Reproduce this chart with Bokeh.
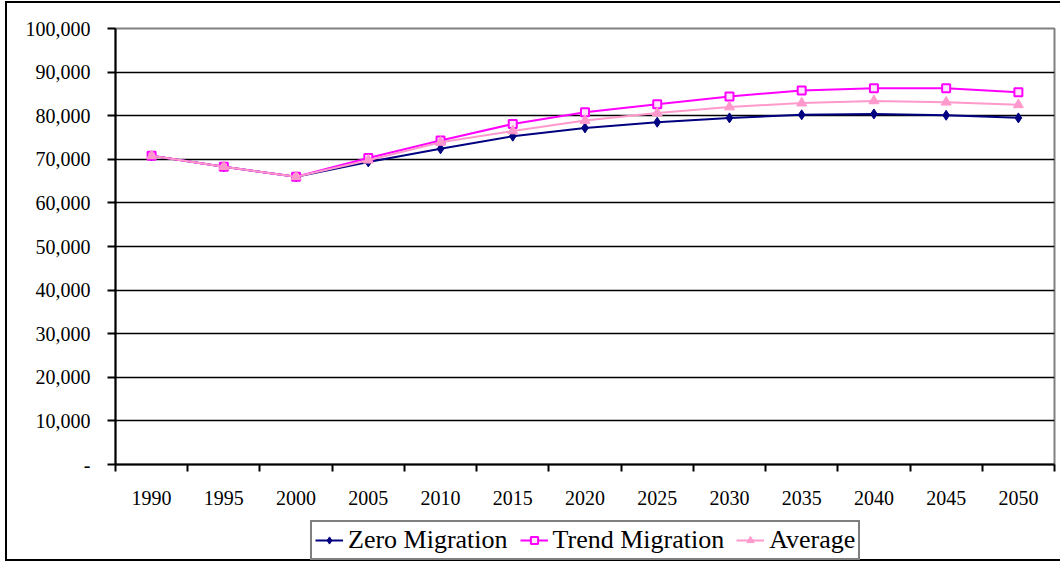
from bokeh.plotting import figure
from bokeh.layouts import column
from bokeh.models import FixedTicker, NumeralTickFormatter, Legend, LegendItem, Range1d
from bokeh.embed import file_html
from bokeh.resources import INLINE

years = [1990, 1995, 2000, 2005, 2010, 2015, 2020, 2025, 2030, 2035, 2040, 2045, 2050]
zero_migration = [70800, 68300, 66000, 69400, 72400, 75300, 77200, 78500, 79500, 80200, 80400, 80100, 79500]
trend_migration = [70800, 68300, 66000, 70300, 74300, 78100, 80800, 82600, 84400, 85800, 86300, 86300, 85400]
average = [70800, 68300, 66000, 69800, 73900, 76500, 78900, 80600, 82000, 82900, 83400, 83100, 82500]
y_ticks = [0, 10000, 20000, 30000, 40000, 50000, 60000, 70000, 80000, 90000, 100000]
series_names = ["Zero Migration", "Trend Migration", "Average"]

FONT = "Liberation Serif"
C_ZERO, C_TREND, C_AVG = "#000080", "#FF00FF", "#FF99CC"

p = figure(width=1060, height=515, output_backend="svg", toolbar_location=None,
           x_range=Range1d(1987.5, 2052.5), y_range=Range1d(0, 100000),
           min_border_left=115, min_border_right=6, min_border_top=28, min_border_bottom=51)

p.background_fill_color = "white"
p.border_fill_color = None
p.outline_line_color = "#808080"
p.outline_line_width = 2

# x axis: labels at category centres, tick marks between categories
p.xaxis.ticker = FixedTicker(ticks=years, minor_ticks=[1987.5 + 5 * i for i in range(14)])
p.xaxis.major_tick_out = 0
p.xaxis.major_tick_in = 0
p.xaxis.minor_tick_out = 7
p.xaxis.minor_tick_in = 0
p.xaxis.minor_tick_line_width = 2
p.xaxis.minor_tick_line_color = "black"
p.xaxis.axis_line_width = 2
p.xaxis.axis_line_color = "black"
p.xaxis.major_label_standoff = 19
p.xaxis.major_label_text_font = FONT
p.xaxis.major_label_text_font_size = "20px"
p.xaxis.major_label_text_color = "black"

p.yaxis.ticker = FixedTicker(ticks=y_ticks, minor_ticks=[])
p.yaxis.formatter = NumeralTickFormatter(format="0,0")
p.yaxis.major_label_overrides = {0: "-"}
p.yaxis.major_tick_out = 8
p.yaxis.major_tick_in = 0
p.yaxis.major_tick_line_width = 2
p.yaxis.major_tick_line_color = "black"
p.yaxis.axis_line_width = 2
p.yaxis.axis_line_color = "black"
p.yaxis.major_label_standoff = 17
p.yaxis.major_label_text_font = FONT
p.yaxis.major_label_text_font_size = "20px"
p.yaxis.major_label_text_color = "black"

p.xgrid.visible = False
p.ygrid.ticker = FixedTicker(ticks=y_ticks[1:-1], minor_ticks=[])
p.ygrid.grid_line_color = "black"
p.ygrid.grid_line_width = 1.4

p.line(years, zero_migration, line_color=C_ZERO, line_width=2)
p.scatter(years, zero_migration, marker="diamond", size=10, fill_color=C_ZERO, line_color=C_ZERO)
p.line(years, trend_migration, line_color=C_TREND, line_width=2)
p.scatter(years, trend_migration, marker="square", size=8, fill_color="#FFE6FF", line_color=C_TREND, line_width=2)
p.line(years, average, line_color=C_AVG, line_width=2)
p.scatter(years, average, marker="triangle", size=10, fill_color=C_AVG, line_color=C_AVG)

# legend strip below the chart (its glyph renderers lie outside its ranges)
q = figure(width=1060, height=47, output_backend="svg", toolbar_location=None,
           x_axis_type=None, y_axis_type=None, x_range=Range1d(0, 1), y_range=Range1d(0, 1),
           min_border_left=0, min_border_right=0, min_border_top=0, min_border_bottom=0)
q.outline_line_color = None
q.grid.visible = False
q.background_fill_color = None
q.border_fill_color = None

k1 = q.line(years, zero_migration, line_color=C_ZERO, line_width=2)
m1 = q.scatter(years, zero_migration, marker="diamond", fill_color=C_ZERO, line_color=C_ZERO)
k2 = q.line(years, trend_migration, line_color=C_TREND, line_width=2)
m2 = q.scatter(years, trend_migration, marker="square", fill_color="#FFE6FF", line_color=C_TREND, line_width=2)
k3 = q.line(years, average, line_color=C_AVG, line_width=2)
m3 = q.scatter(years, average, marker="triangle", fill_color=C_AVG, line_color=C_AVG)

legend = Legend(items=[
    LegendItem(label=series_names[0], renderers=[k1, m1]),
    LegendItem(label=series_names[1], renderers=[k2, m2]),
    LegendItem(label=series_names[2], renderers=[k3, m3]),
], orientation="horizontal", location=(195, 2))
legend.label_text_font = FONT
legend.label_text_font_size = "26px"
legend.label_text_color = "black"
legend.label_text_baseline = "middle"
legend.border_line_color = "black"
legend.border_line_width = 2
legend.glyph_width = 28
legend.glyph_height = 18
legend.label_standoff = 5
legend.spacing = 12
legend.padding = 3
legend.margin = 0
legend.background_fill_color = "white"
legend.background_fill_alpha = 1
q.add_layout(legend, "center")

frame_css = ("linear-gradient(#000,#000) 5px 1px / 2px 560px no-repeat, "
             "linear-gradient(#000,#000) 5px 1px / 1055px 2px no-repeat, "
             "linear-gradient(#000,#000) 5px 559px / 1055px 2px no-repeat, #ffffff")
layout = column(p, q, spacing=0, styles={"background": frame_css})

open("out.html", "w").write(file_html(layout, INLINE))
